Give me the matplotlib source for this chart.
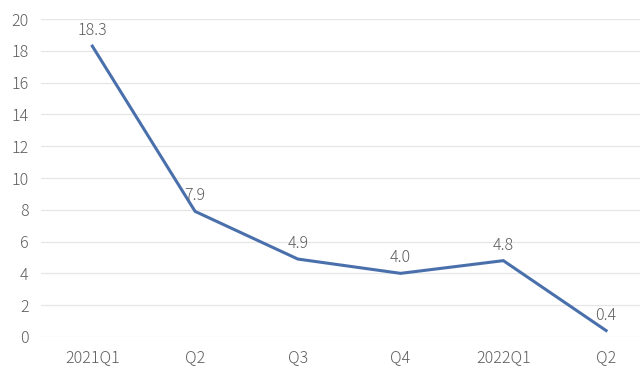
import matplotlib
matplotlib.use("Agg")
import matplotlib.pyplot as plt

categories = ["2021Q1", "Q2", "Q3", "Q4", "2022Q1", "Q2"]
values = [18.3, 7.9, 4.9, 4.0, 4.8, 0.4]
yticks = [0, 2, 4, 6, 8, 10, 12, 14, 16, 18, 20]

plt.rcParams['font.family'] = ['Noto Sans CJK JP', 'DejaVu Sans']
txt = '#5f5f5f'

fig = plt.figure(figsize=(6.4, 3.82), dpi=100)
ax = fig.add_axes([0.064, 0.118, 0.936, 0.832])
x = list(range(len(categories)))
ax.plot(x, values, color='#4a70ac', linewidth=2.2, solid_joinstyle='miter')
for xi, v in zip(x, values):
    ax.annotate(f"{v:.1f}", (xi, v), xytext=(0, 5), textcoords='offset points',
                ha='center', va='bottom', fontsize=11.5, color=txt, fontweight='light')
ax.set_xlim(-0.5, 5.33)
ax.set_ylim(0, 20)
ax.set_yticks(yticks)
ax.set_xticks(x)
ax.set_xticklabels(categories)
ax.grid(axis='y', color='#e6e6e6', linewidth=0.9)
ax.set_axisbelow(True)
for s in ax.spines.values():
    s.set_visible(False)
ax.tick_params(axis='both', length=0, labelsize=11.5, labelcolor=txt)
for lab in ax.get_xticklabels() + ax.get_yticklabels():
    lab.set_fontweight('light')
ax.tick_params(axis='x', pad=9)
ax.tick_params(axis='y', pad=9)
fig.savefig("out.png", dpi=100)
